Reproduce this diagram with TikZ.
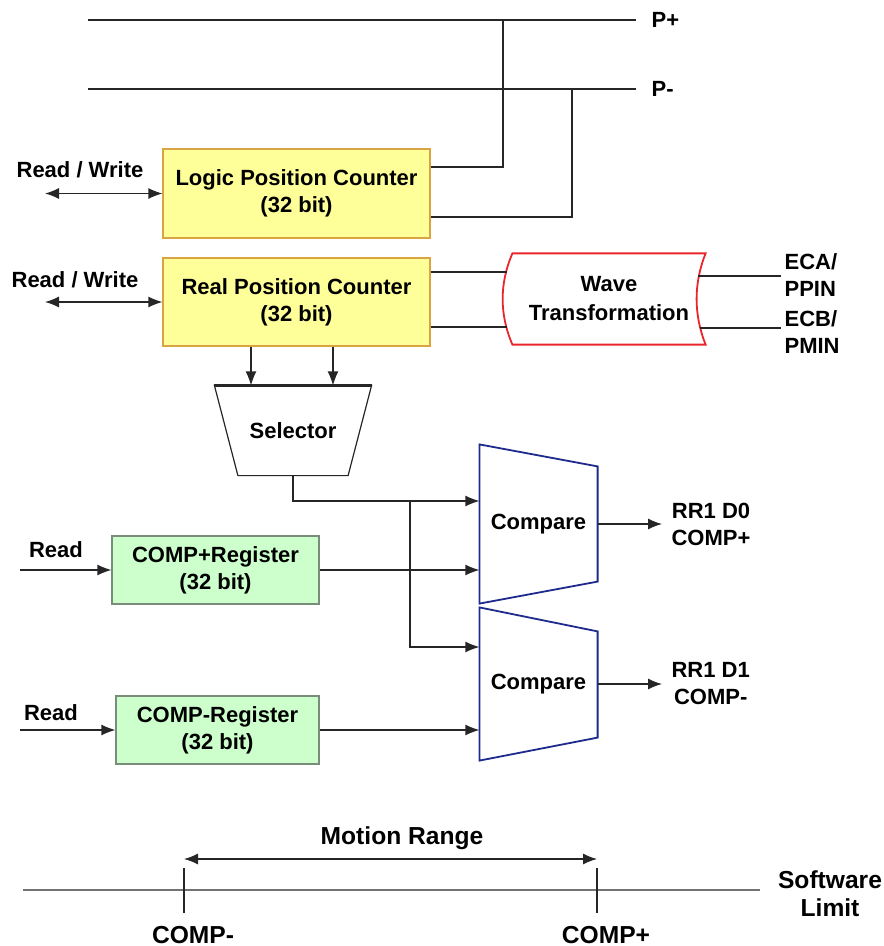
\documentclass[tikz,border=0pt]{standalone}
\usepackage{fontspec}
\setmainfont{Liberation Sans}
\usetikzlibrary{arrows.meta,positioning,calc}
\definecolor{cntfill}{HTML}{FFFF99}
\definecolor{cntline}{HTML}{D9A441}
\definecolor{regfill}{HTML}{CCFFCC}
\definecolor{regline}{HTML}{7A8C7A}
\definecolor{wavered}{HTML}{E8262B}
\definecolor{cmpblue}{HTML}{1E2A8C}

\begin{document}
\begin{tikzpicture}[x=0.5pt, y=-0.5pt, line width=0.6pt, draw=black!85,
  every node/.style={font=\fontsize{11}{13.5}\selectfont\bfseries, inner sep=0pt},
  bigfont/.style={font=\fontsize{12.3}{14}\selectfont\bfseries},
  counter/.style={draw=cntline, fill=cntfill, align=center, minimum width=133.5pt, minimum height=44.5pt},
  register/.style={draw=regline, fill=regfill, align=center, minimum height=34pt},
  onearrow/.style={-{Latex[length=7pt,width=5.5pt]}},
  twoarrow/.style={{Latex[length=7pt,width=5.5pt]}-{Latex[length=7pt,width=5.5pt]}}]

\useasboundingbox (0,0) rectangle (883,946);

\node (pp) [anchor=west, inner xsep=7.5pt] at (636,20) {P+};
\node (pm) [anchor=west, inner xsep=7.5pt] at (636,89) {P-};
\coordinate (ppa) at (88,20);
\coordinate (pma) at (88,89);
\coordinate (ppj) at (503,20);
\coordinate (pmj) at (572,89);
\draw (ppa) -- (pp.west);
\draw (pma) -- (pm.west);

\node (lpc) [counter] at (296.5,193.5) {Logic Position Counter\\(32 bit)};
\node (rpc) [counter, minimum height=44pt] at (296.5,302) {Real Position Counter\\(32 bit)};

\draw (lpc.east) ++(0,-26.5) -| (ppj);
\draw (lpc.east) ++(0,23.5) -| (pmj);

\node (rw1) at (80,170) {Read / Write};
\node (rw2) at (75,280) {Read / Write};
\coordinate (rwa) at (45,193.5);
\coordinate (rwb) at (45,302);
\draw[twoarrow] (rwa) -- (lpc.west);
\draw[twoarrow] (rwb) -- (rpc.west);

\node (wave) [minimum width=96pt, minimum height=45pt, align=center, font=\fontsize{11}{14.5}\selectfont\bfseries] at (609,299) {Wave\\Transformation};
\draw[wavered, line width=0.9pt] (wave.south west) .. controls +(-13,-30) and +(-13,30) .. (wave.north west)
  -- (wave.north east) .. controls +(-12,30) and +(-12,-30) .. (wave.south east) -- cycle;

\coordinate (wi1) at (507,272);
\coordinate (wi2) at (507,327);
\coordinate (wo1) at (698,276);
\coordinate (wo2) at (700,328);
\draw (rpc.east |- wi1) -- (wi1);
\draw (rpc.east |- wi2) -- (wi2);

\node (eca) [anchor=west, align=left, inner xsep=1.5pt] at (781,275.5) {ECA/\\PPIN};
\node (ecb) [anchor=west, align=left, inner xsep=1.5pt] at (781,332.5) {ECB/\\PMIN};
\draw (wo1) -- (eca.west |- wo1);
\draw (wo2) -- (ecb.west |- wo2);

\node (sel) [minimum width=78pt, minimum height=44.5pt] at (293,430.5) {Selector};
\draw (sel.north west) -- (sel.north east) -- ([xshift=-11.75pt]sel.south east)
  -- ([xshift=11.75pt]sel.south west) -- cycle;
\draw[line width=1.2pt] (sel.north west) -- (sel.north east);

\draw[onearrow] ([xshift=-22.75pt]rpc.south) -- ([xshift=-22.75pt]rpc.south |- sel.north);
\draw[onearrow] ([xshift=18.25pt]rpc.south) -- ([xshift=18.25pt]rpc.south |- sel.north);

\node (cmp1) [minimum width=58.5pt, minimum height=79pt] at (538.5,524) {Compare};
\draw[cmpblue, line width=0.9pt] (cmp1.north west) -- ([yshift=-11pt]cmp1.north east)
  -- ([yshift=11pt]cmp1.south east) -- (cmp1.south west) -- cycle;
\node (cmp2) [minimum width=58.5pt, minimum height=76pt] at (538.5,684) {Compare};
\draw[cmpblue, line width=0.9pt] (cmp2.north west) -- ([yshift=-12pt]cmp2.north east)
  -- ([yshift=11.5pt]cmp2.south east) -- (cmp2.south west) -- cycle;

\node (cpr) [register, minimum width=103.5pt] at (215.5,570) {COMP+Register\\(32 bit)};
\node (cmr) [register, minimum width=101.5pt] at (217.5,730) {COMP-Register\\(32 bit)};

\node (rd1) at (56,550) {Read};
\node (rd2) at (51,713) {Read};
\coordinate (ri1) at (20,570);
\coordinate (ri2) at (20,730);
\draw[onearrow] (ri1) -- (cpr.west);
\draw[onearrow] (ri2) -- (cmr.west);

\coordinate (sj) at (410,501);
\draw[onearrow] (sel.south) |- (cmp1.west |- sj);
\draw[onearrow] (sj) |- ([yshift=18.5pt]cmp2.west);
\draw[onearrow] (cpr.east) -- (cmp1.west |- cpr.east);
\draw[onearrow] (cmr.east) -- (cmp2.west |- cmr.east);

\node (rr0) [anchor=west, align=center, inner xsep=4.5pt] at (662,524) {RR1 D0\\COMP+};
\node (rr1) [anchor=west, align=center, inner xsep=4.5pt] at (662,684) {RR1 D1\\COMP-};
\draw[onearrow] (cmp1.east) -- (rr0.west);
\draw[onearrow] (cmp2.east) -- (rr1.west);

\node (mr) [bigfont] at (402,838) {Motion Range};
\node (swl) [bigfont, align=center, inner xsep=8.5pt] at (830,894) {Software\\Limit};
\node (cm) [bigfont] at (193,935) {COMP-};
\node (cp) [bigfont] at (606,935) {COMP+};
\coordinate (ax) at (23,890);
\coordinate (lmin) at (184,868);
\coordinate (lplus) at (597,868);
\coordinate (lminb) at (184,913);
\coordinate (lplusb) at (597,913);
\draw[black!55] (ax) -- (swl.west |- ax);
\draw (lmin) -- (lminb);
\draw (lplus) -- (lplusb);
\draw[twoarrow] ([yshift=4.5pt]lmin) -- ([yshift=4.5pt]lplus);

\end{tikzpicture}
\end{document}
